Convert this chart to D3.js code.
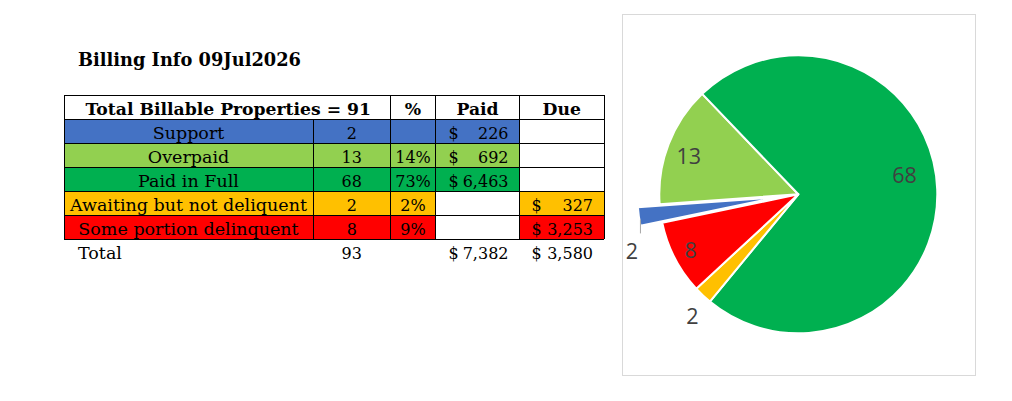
<!DOCTYPE html>
<html>
<head>
<meta charset="utf-8">
<script src="https://cdn.jsdelivr.net/npm/d3@7"></script>
<style>
  body { margin: 0; background: #fff; }
  svg { display: block; }
</style>
</head>
<body>
<div id="chart"></div>
<script>
// data
var title = "Billing Info 09Jul2026";
var headerLabel = "Total Billable Properties = 91";
var headers = ["%", "Paid", "Due"];
var categories = ["Support", "Overpaid", "Paid in Full", "Awaiting but not deliquent", "Some portion delinquent"];
var counts = [2, 13, 68, 2, 8];
var pcts = [null, 0.14, 0.73, 0.02, 0.09];
var paid = [226, 692, 6463, null, null];
var due = [null, null, null, 327, 3253];
var totalLabel = "Total";
var totalCount = 93;
var totalPaid = 7382;
var totalDue = 3580;

var colors = ["#4472C4", "#92D050", "#00B050", "#FFC000", "#FF0000"];

var w = 1012, h = 401;
var svg = d3.select("#chart").append("svg")
    .attr("width", w)
    .attr("height", h);

svg.append("rect").attr("width", w).attr("height", h).attr("fill", "#fff");

var serif = "'DejaVu Serif', Georgia, serif";
var bodySize = "17.5px";
var numSize = "16px";   // Georgia figures are narrow, so numbers run a bit smaller

// ---------- table ----------
var colEdges = [64, 313, 390.5, 435.5, 519.5, 604];
var rowTop = 95, rowH = 24;
var fmtMoney = d3.format(",");
var fmtPct = d3.format(".0%");

svg.append("text")
    .attr("x", 78).attr("y", 66)
    .attr("font-family", serif).attr("font-weight", "bold")
    .attr("font-size", "17.8px")
    .text(title);

var yRow = d3.scaleLinear().domain([0, 1]).range([rowTop, rowTop + rowH]);

// header row
var header = svg.append("g")
    .attr("font-family", serif).attr("font-weight", "bold").attr("font-size", "17.2px");
header.append("rect")
    .attr("x", colEdges[0]).attr("y", yRow(0))
    .attr("width", colEdges[5] - colEdges[0]).attr("height", rowH)
    .attr("fill", "#fff");
header.append("text")
    .attr("x", (colEdges[0] + colEdges[2]) / 2 + 1).attr("y", yRow(1) - 4)
    .attr("text-anchor", "middle")
    .text(headerLabel);
header.selectAll("text.h")
    .data(headers)
    .enter().append("text")
    .attr("class", "h")
    .attr("x", function(d, i) { return (colEdges[i + 2] + colEdges[i + 3]) / 2; })
    .attr("y", yRow(1) - 4)
    .attr("text-anchor", "middle")
    .text(function(d) { return d; });

// which cells get the row colour: name, count, %, paid, due
var filled = categories.map(function(c, i) {
    return [true, true, true, paid[i] != null, due[i] != null];
});

var rows = svg.selectAll("g.row")
    .data(categories)
    .enter().append("g")
    .attr("class", "row")
    .attr("font-family", serif);

rows.each(function(cat, i) {
    var g = d3.select(this);
    var top = yRow(i + 1);
    for (var c = 0; c < 5; c++) {
        g.append("rect")
            .attr("x", colEdges[c]).attr("y", top)
            .attr("width", colEdges[c + 1] - colEdges[c]).attr("height", rowH)
            .attr("fill", filled[i][c] ? colors[i] : "#fff");
    }
    var base = top + rowH - 4;
    var txt = function(x, anchor, s, size) {
        g.append("text")
            .attr("x", x).attr("y", base)
            .attr("text-anchor", anchor)
            .attr("font-size", size || numSize)
            .attr("fill", "#000")
            .text(s);
    };
    txt((colEdges[0] + colEdges[1]) / 2, "middle", cat, bodySize);
    txt((colEdges[1] + colEdges[2]) / 2, "middle", counts[i]);
    if (pcts[i] != null) txt((colEdges[2] + colEdges[3]) / 2, "middle", fmtPct(pcts[i]));
    if (paid[i] != null) {
        txt(colEdges[3] + 13, "start", "$");
        txt(colEdges[4] - 11, "end", fmtMoney(paid[i]));
    }
    if (due[i] != null) {
        txt(colEdges[4] + 12, "start", "$");
        txt(colEdges[5] - 11, "end", fmtMoney(due[i]));
    }
});

// grid lines
var nRows = categories.length + 1;
var grid = svg.append("g")
    .attr("stroke", "#000").attr("stroke-width", 1)
    .attr("shape-rendering", "crispEdges");
d3.range(nRows + 1).forEach(function(r) {
    grid.append("line")
        .attr("x1", colEdges[0]).attr("x2", colEdges[5])
        .attr("y1", yRow(r)).attr("y2", yRow(r));
});
colEdges.forEach(function(x, c) {
    grid.append("line")
        .attr("x1", x).attr("x2", x)
        .attr("y1", c === 1 ? yRow(1) : yRow(0)).attr("y2", yRow(nRows));
});

// total row
var totalBase = yRow(nRows + 1) - 4.5;
var tot = svg.append("g")
    .attr("font-family", serif).attr("font-size", numSize);
tot.append("text").attr("x", 78).attr("y", totalBase)
    .attr("font-size", bodySize).text(totalLabel);
tot.append("text").attr("x", (colEdges[1] + colEdges[2]) / 2).attr("y", totalBase)
    .attr("text-anchor", "middle").text(totalCount);
tot.append("text").attr("x", colEdges[3] + 13).attr("y", totalBase).text("$");
tot.append("text").attr("x", colEdges[4] - 11).attr("y", totalBase)
    .attr("text-anchor", "end").text(fmtMoney(totalPaid));
tot.append("text").attr("x", colEdges[4] + 12).attr("y", totalBase).text("$");
tot.append("text").attr("x", colEdges[5] - 11).attr("y", totalBase)
    .attr("text-anchor", "end").text(fmtMoney(totalDue));

// ---------- pie ----------
svg.append("rect")
    .attr("x", 622.5).attr("y", 14.5)
    .attr("width", 353).attr("height", 361)
    .attr("fill", "#fff").attr("stroke", "#d9d9d9");

var cx = 798.3, cy = 194.3, r = 139;
var explode = 22;
var toRad = Math.PI / 180;
var start = 258.2 * toRad;

var pie = d3.pie().sort(null)
    .startAngle(start).endAngle(start + 2 * Math.PI);
var arcs = pie(counts);
var arc = d3.arc().innerRadius(0).outerRadius(r);

// only Support is pulled out of the pie
var offsets = counts.map(function(d, i) { return i === 0 ? explode : 0; });

var pieG = svg.append("g").attr("transform", "translate(" + cx + "," + cy + ")");

function mid(a) { return (a.startAngle + a.endAngle) / 2; }

pieG.selectAll("path")
    .data(arcs)
    .enter().append("path")
    .attr("d", arc)
    .attr("transform", function(d, i) {
        var m = mid(d);
        return "translate(" + (offsets[i] * Math.sin(m)) + "," + (-offsets[i] * Math.cos(m)) + ")";
    })
    .attr("fill", function(d, i) { return colors[i]; })
    .attr("stroke", "#fff")
    .attr("stroke-width", 2)
    .attr("stroke-linejoin", "round");

// label placement (best-fit style): radius and angle nudge in degrees, slice order
var labelRad = [176, 116, 108, 162, 121.5];
var labelNudge = [-11, -2, -8, -2.5, -0.4];

var labelPt = function(d, i) {
    var a = mid(d) + labelNudge[i] * toRad;
    return [labelRad[i] * Math.sin(a), -labelRad[i] * Math.cos(a)];
};

// leader line for the pulled-out slice
var s0 = arcs[0];
var m0 = mid(s0);
var cornerX = explode * Math.sin(m0) + r * Math.sin(s0.startAngle);
var cornerY = -explode * Math.cos(m0) - r * Math.cos(s0.startAngle);
var lp0 = labelPt(s0, 0);
pieG.append("line")
    .attr("x1", cornerX).attr("y1", cornerY - 6)
    .attr("x2", cornerX).attr("y2", lp0[1] - 18)
    .attr("stroke", "#a6a6a6").attr("stroke-width", 1);

pieG.selectAll("text")
    .data(arcs)
    .enter().append("text")
    .attr("x", function(d, i) { return labelPt(d, i)[0]; })
    .attr("y", function(d, i) { return labelPt(d, i)[1] + 7.5; })
    .attr("text-anchor", "middle")
    .attr("font-family", "'Open Sans', 'Noto Sans', sans-serif")
    .attr("font-size", "21.5px")
    .attr("fill", "#404040")
    .text(function(d) { return d.data; });
</script>
</body>
</html>
